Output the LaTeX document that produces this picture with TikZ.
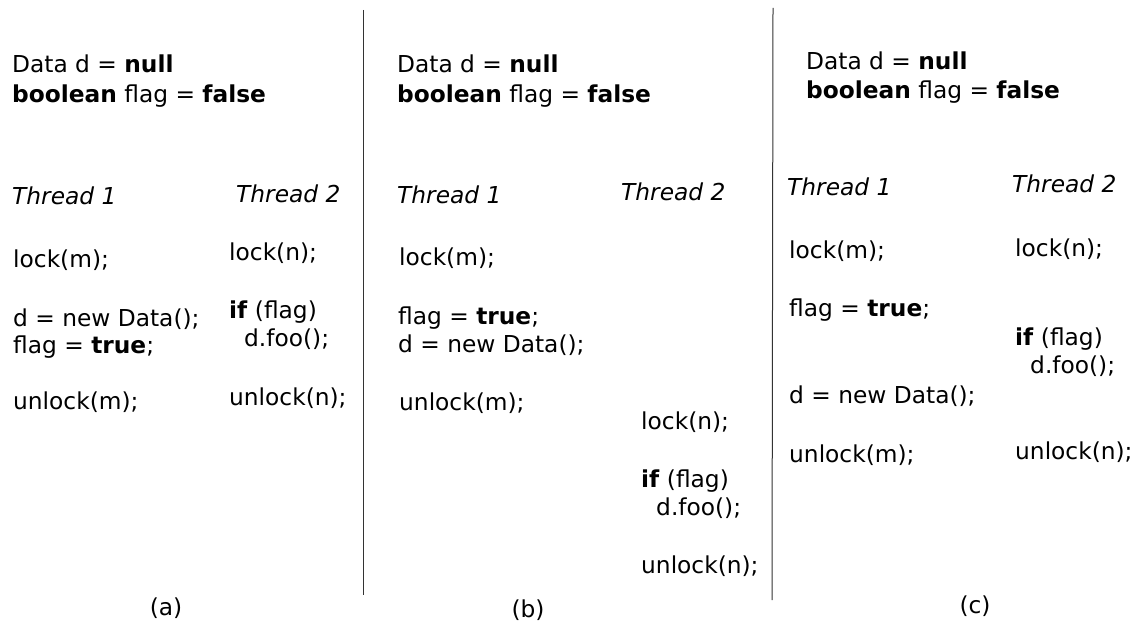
\documentclass[tikz,border=0pt]{standalone}
\usepackage{fontspec}
\setmainfont{DejaVu Sans}
\begin{document}
\begin{tikzpicture}[x=1pt,y=-1pt,
  code/.style={anchor=base west,inner sep=0pt,font=\fontsize{23.3}{28}\selectfont},
  caplabel/.style={anchor=base,inner sep=0pt,font=\fontsize{23.3}{28}\selectfont},
  sep/.style={line width=1pt,draw=black!80}]
\useasboundingbox (0,0) rectangle (1140,626);
% separators
\coordinate (s1t) at (363,10); \coordinate (s1b) at (363,595);
\coordinate (s2t) at (773,8);  \coordinate (s2b) at (772,600);
\draw[sep] (s1t) -- (s1b);
\draw[sep] (s2t) -- (s2b);
% panel (a)
\node[code] (a1) at (12,73) {Data d = \textbf{null}};
\node[code] (a2) at (12,102) {\textbf{boolean} flag = \textbf{false}};
\node[code] (a3) at (12,204) {\itshape Thread 1};
\node[code] (a4) at (236,202) {\itshape Thread 2};
\node[code] (a5) at (13,267) {lock(m);};
\node[code] (a6) at (13,326) {d = new Data();};
\node[code] (a7) at (13,353) {flag = \textbf{true};};
\node[code] (a8) at (13,409) {unlock(m);};
\node[code] (a9) at (229,260) {lock(n);};
\node[code] (a10) at (229,318) {\textbf{if} (flag)};
\node[code] (a11) at (244,346) {d.foo();};
\node[code] (a12) at (229,405) {unlock(n);};
\node[caplabel] (la) at (166,615) {(a)};
% panel (b)
\node[code] (b1) at (397,73) {Data d = \textbf{null}};
\node[code] (b2) at (397,102) {\textbf{boolean} flag = \textbf{false}};
\node[code] (b3) at (397,203) {\itshape Thread 1};
\node[code] (b4) at (621,200) {\itshape Thread 2};
\node[code] (b5) at (399,265) {lock(m);};
\node[code] (b6) at (398,324) {flag = \textbf{true};};
\node[code] (b7) at (398,352) {d = new Data();};
\node[code] (b8) at (399,410) {unlock(m);};
\node[code] (b9) at (641,429) {lock(n);};
\node[code] (b10) at (641,487) {\textbf{if} (flag)};
\node[code] (b11) at (656,515) {d.foo();};
\node[code] (b12) at (641,573) {unlock(n);};
\node[caplabel] (lb) at (528,617) {(b)};
% panel (c)
\node[code] (c1) at (806,70) {Data d = \textbf{null}};
\node[code] (c2) at (806,99) {\textbf{boolean} flag = \textbf{false}};
\node[code] (c3) at (787,195) {\itshape Thread 1};
\node[code] (c4) at (1012,192) {\itshape Thread 2};
\node[code] (c5) at (789,258) {lock(m);};
\node[code] (c6) at (789,316) {flag = \textbf{true};};
\node[code] (c7) at (789,403) {d = new Data();};
\node[code] (c8) at (789,462) {unlock(m);};
\node[code] (c9) at (1015,256) {lock(n);};
\node[code] (c10) at (1015,345) {\textbf{if} (flag)};
\node[code] (c11) at (1030,373) {d.foo();};
\node[code] (c12) at (1015,459) {unlock(n);};
\node[caplabel] (lc) at (975,613) {(c)};
\end{tikzpicture}
\end{document}
